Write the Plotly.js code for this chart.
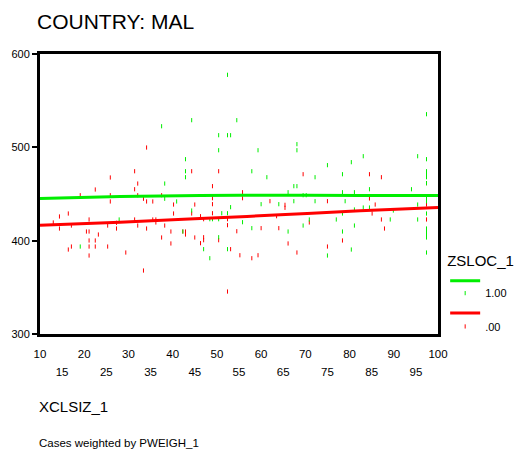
<!DOCTYPE html>
<html>
<head>
<meta charset="utf-8">
<script src="https://cdn.plot.ly/plotly-3.0.1.min.js"></script>
<style>html,body{margin:0;padding:0;background:#fff;}#chart{width:518px;height:454px;}</style>
</head>
<body>
<div id="chart"></div>
<script>
// ---- data ----
const greenX = [19.1, 27.9, 37.5, 44.3, 42.9, 42.9, 42.9, 38.2, 38.2, 40.9, 44.3, 42.3,
  52.4, 54.5, 50.4, 52.4, 53.1, 50.4, 59.3, 57.9, 61.3, 53.1, 60.0, 64.0, 51.1, 52.4, 48.4, 49.0, 50.4, 55.8, 57.9, 50.4, 47.0, 52.4, 48.4,
  68.1, 68.1, 80.4, 75.0, 78.4, 72.2, 67.4, 68.1, 66.1, 78.4, 81.1, 69.5, 70.2, 67.4, 72.2, 79.0, 81.1, 78.4, 77.0, 70.9, 69.5, 81.1, 66.1, 78.4, 80.4, 75.0,
  97.4, 83.1, 95.4, 97.4, 97.4, 97.4, 97.4, 97.4, 84.5, 94.0, 97.4, 97.4, 95.4, 83.1, 84.5, 89.9, 97.4, 89.2, 95.4, 97.4, 97.4, 97.4, 97.4, 97.4];
const greenY = [393.7, 422.7, 522.6, 529.1, 487.3, 474.4, 468.0, 461.2, 444.9, 442.0, 432.3, 409.8,
  577.7, 529.1, 513.0, 513.0, 513.0, 496.9, 496.9, 474.4, 468.0, 435.9, 439.1, 439.1, 429.4, 429.4, 423.0, 423.0, 423.0, 419.8, 413.4, 403.7, 390.9, 390.9, 381.2,
  503.4, 496.9, 484.1, 480.9, 471.2, 468.0, 458.4, 458.4, 451.9, 451.9, 451.9, 448.7, 448.7, 442.3, 442.3, 442.3, 433.4, 429.1, 422.7, 422.7, 416.2, 416.2, 409.8, 409.8, 390.5, 384.1,
  535.5, 490.5, 490.5, 487.3, 474.4, 471.2, 468.0, 461.6, 455.1, 455.1, 445.2, 442.3, 438.7, 435.5, 435.5, 432.3, 429.1, 422.7, 422.7, 413.0, 409.8, 406.6, 403.4, 387.3];

const redX = [25.9, 22.5, 19.1, 25.9, 25.9, 14.4, 16.4, 13.0, 21.1, 14.4, 17.1, 25.3, 27.3, 27.3, 20.5, 21.1, 23.2, 21.1, 22.5, 17.1, 16.4, 21.1, 22.5, 25.3, 21.1,
  34.1, 31.4, 44.3, 32.1, 31.4, 32.1, 37.5, 33.4, 34.1, 35.5, 40.2, 45.0, 44.3, 40.2, 31.4, 35.5, 36.2, 36.2, 32.1, 38.2, 34.1, 39.6, 42.3, 42.9, 42.9, 37.5, 45.0, 39.6, 29.4, 33.4,
  50.4, 49.0, 55.8, 49.0, 55.8, 49.0, 62.0, 49.0, 46.3, 47.0, 52.4, 63.5, 52.4, 54.5, 60.0, 64.0, 47.0, 47.0, 50.4, 46.3, 53.1, 55.2, 57.9, 59.3, 52.4,
  69.5, 75.0, 65.4, 65.4, 70.9, 78.4, 66.1, 75.0, 68.1,
  84.5, 87.2, 97.4, 84.5, 85.8, 97.4, 85.1, 87.2, 97.4, 87.9];
const redY = [467.7, 454.8, 448.7, 448.7, 442.0, 425.9, 429.1, 419.5, 422.7, 413.0, 416.2, 416.2, 413.0, 419.1, 409.8, 409.8, 406.6, 400.2, 400.2, 393.7, 390.5, 393.7, 393.7, 393.7, 384.1,
  499.8, 474.4, 474.4, 461.2, 455.1, 448.7, 448.7, 444.9, 442.0, 442.0, 438.7, 438.7, 429.1, 429.1, 422.7, 422.7, 422.7, 419.5, 416.2, 416.2, 413.0, 409.8, 409.8, 409.8, 406.6, 403.4, 403.4, 397.0, 387.3, 368.0,
  474.4, 458.4, 451.9, 445.5, 445.5, 439.1, 442.3, 429.4, 426.2, 423.0, 423.0, 426.2, 416.6, 410.1, 413.4, 413.4, 403.7, 400.5, 400.5, 397.3, 390.9, 384.4, 381.2, 384.4, 345.5,
  471.2, 442.3, 438.4, 435.2, 419.5, 400.2, 397.0, 393.7, 387.3,
  471.2, 468.0, 461.6, 445.2, 438.7, 438.7, 429.1, 422.7, 422.7, 413.0];

const fitX = [10, 28.1, 46.2, 64.3, 82.4, 100];
const greenFit = [445.2, 447.2, 448.4, 448.6, 448.4, 448.3];
const redFit = [416.6, 419.8, 423.7, 427.7, 432.0, 435.5];

const xTicksMajor = [10, 20, 30, 40, 50, 60, 70, 80, 90, 100];
const xTicksMinor = [15, 25, 35, 45, 55, 65, 75, 85, 95];
const yTicks = [300, 400, 500, 600];

const title = 'COUNTRY: MAL';
const xTitle = 'XCLSIZ_1';
const note = 'Cases weighted by PWEIGH_1';
const legendTitle = 'ZSLOC_1';
const groupNames = ['1.00', '.00'];

// ---- drawing ----
const FONT = 'Liberation Sans, Arial, Helvetica, sans-serif';
const GREEN = '#00ee00';
const RED = '#ff0000';

const traces = [
  {x: redX, y: redY, type: 'scatter', mode: 'markers', name: groupNames[1], legend: 'legend4',
   marker: {symbol: 'line-ns', size: 3, color: RED, line: {width: 1, color: RED}}},
  {x: greenX, y: greenY, type: 'scatter', mode: 'markers', name: groupNames[0], legend: 'legend2',
   marker: {symbol: 'line-ns', size: 3, color: GREEN, line: {width: 1, color: GREEN}}},
  {x: fitX, y: redFit, type: 'scatter', mode: 'lines', name: ' ', legend: 'legend3',
   line: {color: RED, width: 3, shape: 'spline'}},
  {x: fitX, y: greenFit, type: 'scatter', mode: 'lines', name: ' ', legend: 'legend',
   line: {color: GREEN, width: 3, shape: 'spline'}},
  {x: xTicksMinor, y: xTicksMinor.map(() => null), xaxis: 'x2', type: 'scatter', mode: 'markers',
   showlegend: false, hoverinfo: 'skip'}
];

const baseLegend = {bgcolor: 'rgba(0,0,0,0)', borderwidth: 0, xanchor: 'left',
  font: {family: FONT, size: 11, color: '#000'}};

const layout = {
  width: 518, height: 454,
  margin: {l: 40, r: 80, t: 54, b: 120, autoexpand: false},
  paper_bgcolor: '#fff', plot_bgcolor: '#fff',
  font: {family: FONT, color: '#000'},
  title: {text: title, font: {family: FONT, size: 21, color: '#000'},
    xref: 'container', yref: 'container', x: 37 / 518, xanchor: 'left', y: 1 - 22 / 454, yanchor: 'middle'},
  xaxis: {range: [10, 100], tickvals: xTicksMajor, ticktext: xTicksMajor.map(String),
    ticks: '', ticklabelstandoff: 7, showline: true, linewidth: 3, linecolor: '#000', mirror: true,
    showgrid: false, zeroline: false, tickfont: {family: FONT, size: 11.5, color: '#000'}},
  xaxis2: {range: [10, 100], overlaying: 'x', anchor: 'y', side: 'bottom', tickvals: xTicksMinor,
    ticktext: xTicksMinor.map(String), ticks: '', ticklabelstandoff: 29, showline: false,
    showgrid: false, zeroline: false, tickfont: {family: FONT, size: 11.5, color: '#000'}},
  yaxis: {range: [300, 600], tickvals: yTicks, ticktext: yTicks.map(String), ticks: 'outside',
    ticklen: 5, tickwidth: 2, tickcolor: '#000', showline: true, linewidth: 3, linecolor: '#000',
    mirror: true, showgrid: false, zeroline: false, tickfont: {family: FONT, size: 11, color: '#000'}},
  showlegend: true,
  legend: Object.assign({}, baseLegend, {x: 1.018, y: 0.312, yanchor: 'top',
    title: {text: legendTitle, font: {family: FONT, size: 15, color: '#000'}}}),
  legend2: Object.assign({}, baseLegend, {x: 1.018, y: 0.146, yanchor: 'middle'}),
  legend3: Object.assign({}, baseLegend, {x: 1.018, y: 0.075, yanchor: 'middle'}),
  legend4: Object.assign({}, baseLegend, {x: 1.018, y: 0.027, yanchor: 'middle'}),
  annotations: [
    {text: xTitle, xref: 'paper', yref: 'paper', x: -0.0075, y: -0.2607, xanchor: 'left', yanchor: 'middle',
     showarrow: false, font: {family: FONT, size: 15, color: '#000'}},
    {text: note, xref: 'paper', yref: 'paper', x: -0.0075, y: -0.389, xanchor: 'left', yanchor: 'middle',
     showarrow: false, font: {family: FONT, size: 11.5, color: '#000'}}
  ]
};

Plotly.newPlot('chart', traces, layout, {displayModeBar: false, staticPlot: true});
</script>
</body>
</html>
